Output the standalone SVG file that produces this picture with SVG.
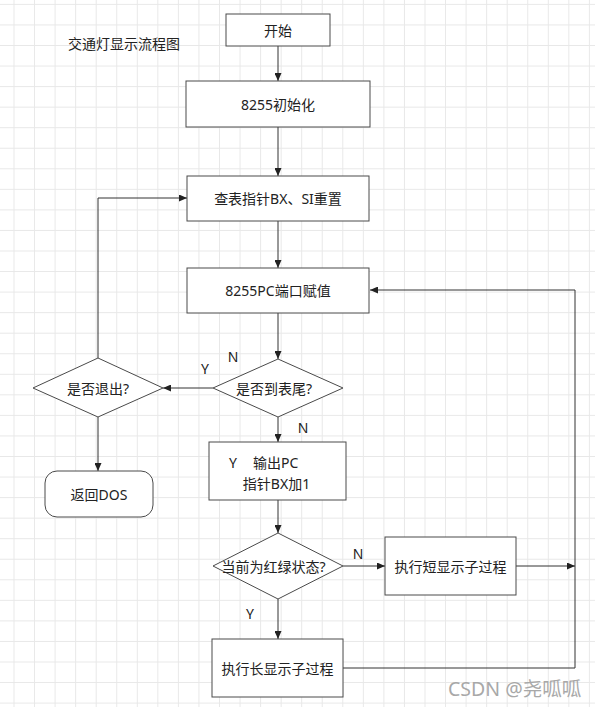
<svg xmlns="http://www.w3.org/2000/svg" width="595" height="707" viewBox="0 0 595 707">
<style>
.node rect,.node polygon{fill:#fff;stroke:#4a4a4a;stroke-width:1}
.t{font-family:"Noto Sans","Noto Sans CJK SC",sans-serif;font-size:14px;fill:#222;text-anchor:middle;dominant-baseline:central}
.lbl{font-family:"Noto Sans","Noto Sans CJK SC",sans-serif;font-size:14px;fill:#222;text-anchor:middle;dominant-baseline:central}
.c{fill:none;stroke:#333;stroke-width:1;marker-end:url(#arr)}
</style>
<defs>
<marker id="arr" viewBox="0 0 8 7" markerWidth="8" markerHeight="7" refX="8" refY="3.5" orient="auto" markerUnits="userSpaceOnUse">
<path d="M0,0 L8,3.5 L0,7 z" fill="#222"/>
</marker>
<pattern id="grid" x="13.5" y="3.9" width="20.55" height="20.55" patternUnits="userSpaceOnUse">
<path d="M0.5,0 V20.55 M0,0.5 H20.55" stroke="#e8e8e8" stroke-width="1" fill="none"/>
</pattern>
</defs>
<rect x="0" y="0" width="595" height="707" fill="#fff"/>
<rect x="0" y="0" width="595" height="707" fill="url(#grid)"/>

<text class="t" x="68" y="43" style="text-anchor:start">交通灯显示流程图</text>

<g id="connectors">
<path class="c" d="M278,46 V81"/>
<path class="c" d="M278,127 V176"/>
<path class="c" d="M278,221 V268"/>
<path class="c" d="M278,313 V359"/>
<path class="c" d="M213,388 H163"/>
<path class="c" d="M278,417 V442"/>
<path class="c" d="M98,358 V198 H187"/>
<path class="c" d="M98,417 V471"/>
<path class="c" d="M278,500 V533"/>
<path class="c" d="M343,566 H385"/>
<path class="c" d="M278,599 V639"/>
<path class="c" d="M516,566 H575"/>
<path class="c" d="M343,668 H575 V290 H370"/>
<text class="lbl" x="205" y="368">Y</text>
<text class="lbl" x="233" y="356">N</text>
<text class="lbl" x="303" y="427">N</text>
<text class="lbl" x="358" y="553">N</text>
<text class="lbl" x="250" y="613">Y</text>
</g>

<g id="start" class="node">
<rect x="226" y="14" width="104" height="32"/>
<text class="t" x="278" y="30">开始</text>
</g>
<g id="init" class="node">
<rect x="186" y="81" width="184" height="46"/>
<text class="t" x="278" y="104">8255初始化</text>
</g>
<g id="reset" class="node">
<rect x="187" y="176" width="182" height="45"/>
<text class="t" x="278" y="198.5">查表指针BX、SI重置</text>
</g>
<g id="assign" class="node">
<rect x="187" y="268" width="182" height="45"/>
<text class="t" x="278" y="290.5">8255PC端口赋值</text>
</g>
<g id="tableend" class="node">
<polygon points="278,359 343,388 278,417 213,388"/>
<text class="t" x="274" y="388">是否到表尾?</text>
</g>
<g id="exit" class="node">
<polygon points="98,358 163,388 98,417 33,388"/>
<text class="t" x="98" y="388">是否退出?</text>
</g>
<g id="dos" class="node">
<rect x="45" y="471" width="108" height="46" rx="12" ry="12"/>
<text class="t" x="99" y="494">返回DOS</text>
</g>
<g id="output" class="node">
<rect x="209" y="442" width="137" height="58"/>
<text class="t" style="text-anchor:start" y="462"><tspan x="229">Y</tspan><tspan x="253">输出PC</tspan></text>
<text class="t" x="276.5" y="483">指针BX加1</text>
</g>
<g id="state" class="node">
<polygon points="278,533 343,566 278,599 213,566"/>
<text class="t" x="273.5" y="566">当前为红绿状态?</text>
</g>
<g id="short" class="node">
<rect x="385" y="537" width="131" height="58"/>
<text class="t" x="450.5" y="566">执行短显示子过程</text>
</g>
<g id="long" class="node">
<rect x="212" y="639" width="131" height="58"/>
<text class="t" x="277.5" y="668">执行长显示子过程</text>
</g>

<text x="448" y="688" style="font-family:'Noto Sans','Noto Sans CJK SC',sans-serif;font-size:19.5px;fill:#a8a8a8;dominant-baseline:central">CSDN @尧呱呱</text>
</svg>
